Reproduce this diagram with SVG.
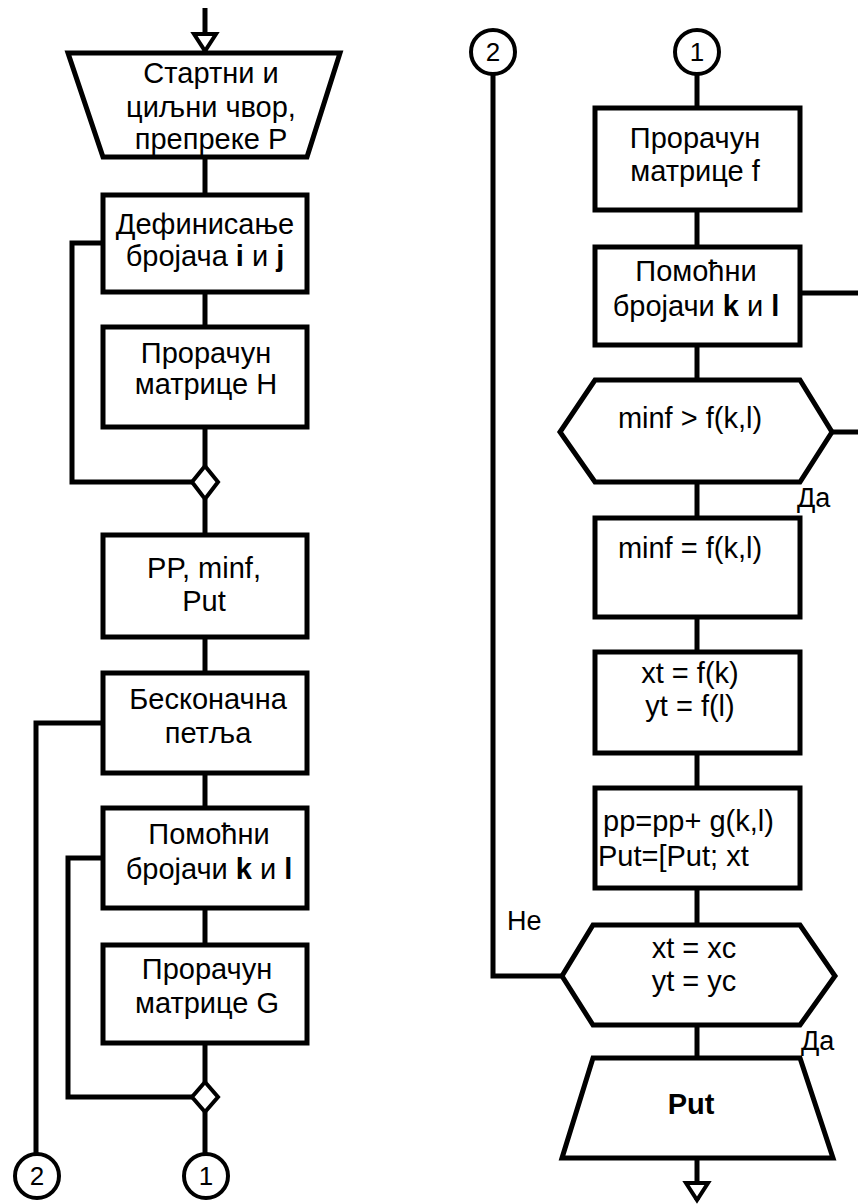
<svg xmlns="http://www.w3.org/2000/svg" width="858" height="1204" viewBox="0 0 858 1204">
  <style>
    .box { fill: #fff; stroke: #000; stroke-width: 5; stroke-linejoin: miter; }
    .con { fill: none; stroke: #000; stroke-width: 5; stroke-linejoin: miter; }
    .conn { fill: #fff; stroke: #000; stroke-width: 4; }
    .t { font-family: "Liberation Sans", Arial, sans-serif; font-size: 29px; fill: #000; text-anchor: middle; }
    .ts { font-family: "Liberation Sans", Arial, sans-serif; font-size: 29px; fill: #000; }
    .lbl { font-family: "Liberation Sans", Arial, sans-serif; font-size: 27px; fill: #000; }
    .num { font-family: "Liberation Sans", Arial, sans-serif; font-size: 26px; fill: #000; text-anchor: middle; }
    .b { font-weight: bold; }
  </style>
  <defs>
    <!-- open triangular arrowhead for flow start / end -->
    <marker id="openArrow" markerUnits="userSpaceOnUse" viewBox="0 0 24 26" refX="19" refY="13" markerWidth="24" markerHeight="26" orient="auto" overflow="visible">
      <polygon points="2,2 2,24 19,13" fill="#fff" stroke="#000" stroke-width="4" stroke-linejoin="miter"/>
    </marker>
  </defs>

  <!-- connectors -->
  <g id="connectors">
    <!-- left column -->
    <path class="con" d="M205,8 V51" marker-end="url(#openArrow)"/>
    <path class="con" d="M205,157 V195"/>
    <path class="con" d="M205,292 V327"/>
    <path class="con" d="M205,427 V466"/>
    <path class="con" d="M205,499 V535"/>
    <path class="con" d="M205,637 V673"/>
    <path class="con" d="M205,773 V808"/>
    <path class="con" d="M205,908 V945"/>
    <path class="con" d="M205,1043 V1082"/>
    <path class="con" d="M205,1112 V1154"/>
    <path class="con" d="M103,243 H72 V482 H192"/>
    <path class="con" d="M103,723 H36 V1154"/>
    <path class="con" d="M103,858 H68 V1097 H192"/>
    <!-- right column -->
    <path class="con" d="M493,74 V976 H562"/>
    <path class="con" d="M697,74 V108"/>
    <path class="con" d="M697,210 V247"/>
    <path class="con" d="M697,345 V380"/>
    <path class="con" d="M697,482 V518"/>
    <path class="con" d="M697,617 V652"/>
    <path class="con" d="M697,753 V788"/>
    <path class="con" d="M697,888 V925"/>
    <path class="con" d="M697,1025 V1058"/>
    <path class="con" d="M697,1158 V1200" marker-end="url(#openArrow)"/>
    <path class="con" d="M800,293 H866 V432 H832"/>
  </g>

  <!-- left column nodes -->
  <g id="input-start">
    <polygon class="box" points="68,53 340,53 307,157 103,157"/>
    <text class="t" x="211" y="83">Стартни и</text>
    <text class="t" x="211" y="117">циљни чвор,</text>
    <text class="t" x="211" y="149">препреке Р</text>
  </g>
  <g id="def-ij">
    <rect class="box" x="103" y="195" width="204" height="97"/>
    <text class="t" x="205" y="234">Дефинисање</text>
    <text class="t" x="205" y="266">бројача <tspan class="b">i</tspan> и <tspan class="b">j</tspan></text>
  </g>
  <g id="calc-h">
    <rect class="box" x="103" y="327" width="204" height="100"/>
    <text class="t" x="206" y="363">Прорачун</text>
    <text class="t" x="206" y="394">матрице H</text>
  </g>
  <g id="join-1">
    <polygon class="conn" points="205,466 218,482 205,499 192,482"/>
  </g>
  <g id="init-pp">
    <rect class="box" x="103" y="535" width="204" height="102"/>
    <text class="t" x="204" y="578">PP, minf,</text>
    <text class="t" x="204" y="611">Put</text>
  </g>
  <g id="loop-inf">
    <rect class="box" x="103" y="673" width="204" height="100"/>
    <text class="t" x="208" y="709">Бесконачна</text>
    <text class="t" x="208" y="743">петља</text>
  </g>
  <g id="aux-kl-left">
    <rect class="box" x="103" y="808" width="204" height="100"/>
    <text class="t" x="209" y="844">Помоћни</text>
    <text class="t" x="209" y="879">бројачи <tspan class="b">k</tspan> и <tspan class="b">l</tspan></text>
  </g>
  <g id="calc-g">
    <rect class="box" x="103" y="945" width="204" height="98"/>
    <text class="t" x="207" y="979">Прорачун</text>
    <text class="t" x="207" y="1013">матрице G</text>
  </g>
  <g id="join-2">
    <polygon class="conn" points="205,1082 218,1097 205,1112 192,1097"/>
  </g>
  <g id="off-2-left">
    <circle class="conn" cx="37" cy="1176" r="22"/>
    <text class="num" x="37" y="1185">2</text>
  </g>
  <g id="off-1-left">
    <circle class="conn" cx="206" cy="1176" r="22"/>
    <text class="num" x="206" y="1185">1</text>
  </g>

  <!-- right column nodes -->
  <g id="off-2-right">
    <circle class="conn" cx="493" cy="52" r="22"/>
    <text class="num" x="493" y="61">2</text>
  </g>
  <g id="off-1-right">
    <circle class="conn" cx="697" cy="52" r="22"/>
    <text class="num" x="697" y="61">1</text>
  </g>
  <g id="calc-f">
    <rect class="box" x="595" y="108" width="205" height="102"/>
    <text class="t" x="695" y="148">Прорачун</text>
    <text class="t" x="695" y="181">матрице f</text>
  </g>
  <g id="aux-kl-right">
    <rect class="box" x="595" y="247" width="205" height="98"/>
    <text class="t" x="696" y="281">Помоћни</text>
    <text class="t" x="696" y="316">бројачи <tspan class="b">k</tspan> и <tspan class="b">l</tspan></text>
  </g>
  <g id="cond-minf">
    <polygon class="box" points="595,380 800,380 832,432 800,482 595,482 560,432"/>
    <text class="t" x="690" y="428">minf &gt; f(k,l)</text>
    <text class="lbl" x="797" y="507">Да</text>
  </g>
  <g id="set-minf">
    <rect class="box" x="595" y="518" width="205" height="99"/>
    <text class="t" x="690" y="558">minf = f(k,l)</text>
  </g>
  <g id="set-xt-yt">
    <rect class="box" x="595" y="652" width="205" height="101"/>
    <text class="t" x="690" y="683">xt = f(k)</text>
    <text class="t" x="690" y="716">yt = f(l)</text>
  </g>
  <g id="update-path">
    <rect class="box" x="595" y="788" width="205" height="100"/>
    <text class="ts" x="603" y="831">pp=pp+ g(k,l)</text>
    <text class="ts" x="598" y="866">Put=[Put; xt</text>
  </g>
  <g id="cond-goal">
    <polygon class="box" points="593,925 800,925 835,976 800,1025 593,1025 562,976"/>
    <text class="t" x="694" y="958">xt = xc</text>
    <text class="t" x="694" y="991">yt = yc</text>
    <text class="lbl" x="507" y="930">Не</text>
    <text class="lbl" x="801" y="1050">Да</text>
  </g>
  <g id="output-put">
    <polygon class="box" points="593,1058 800,1058 833,1158 562,1158"/>
    <text class="t b" x="691" y="1114">Put</text>
  </g>
</svg>
